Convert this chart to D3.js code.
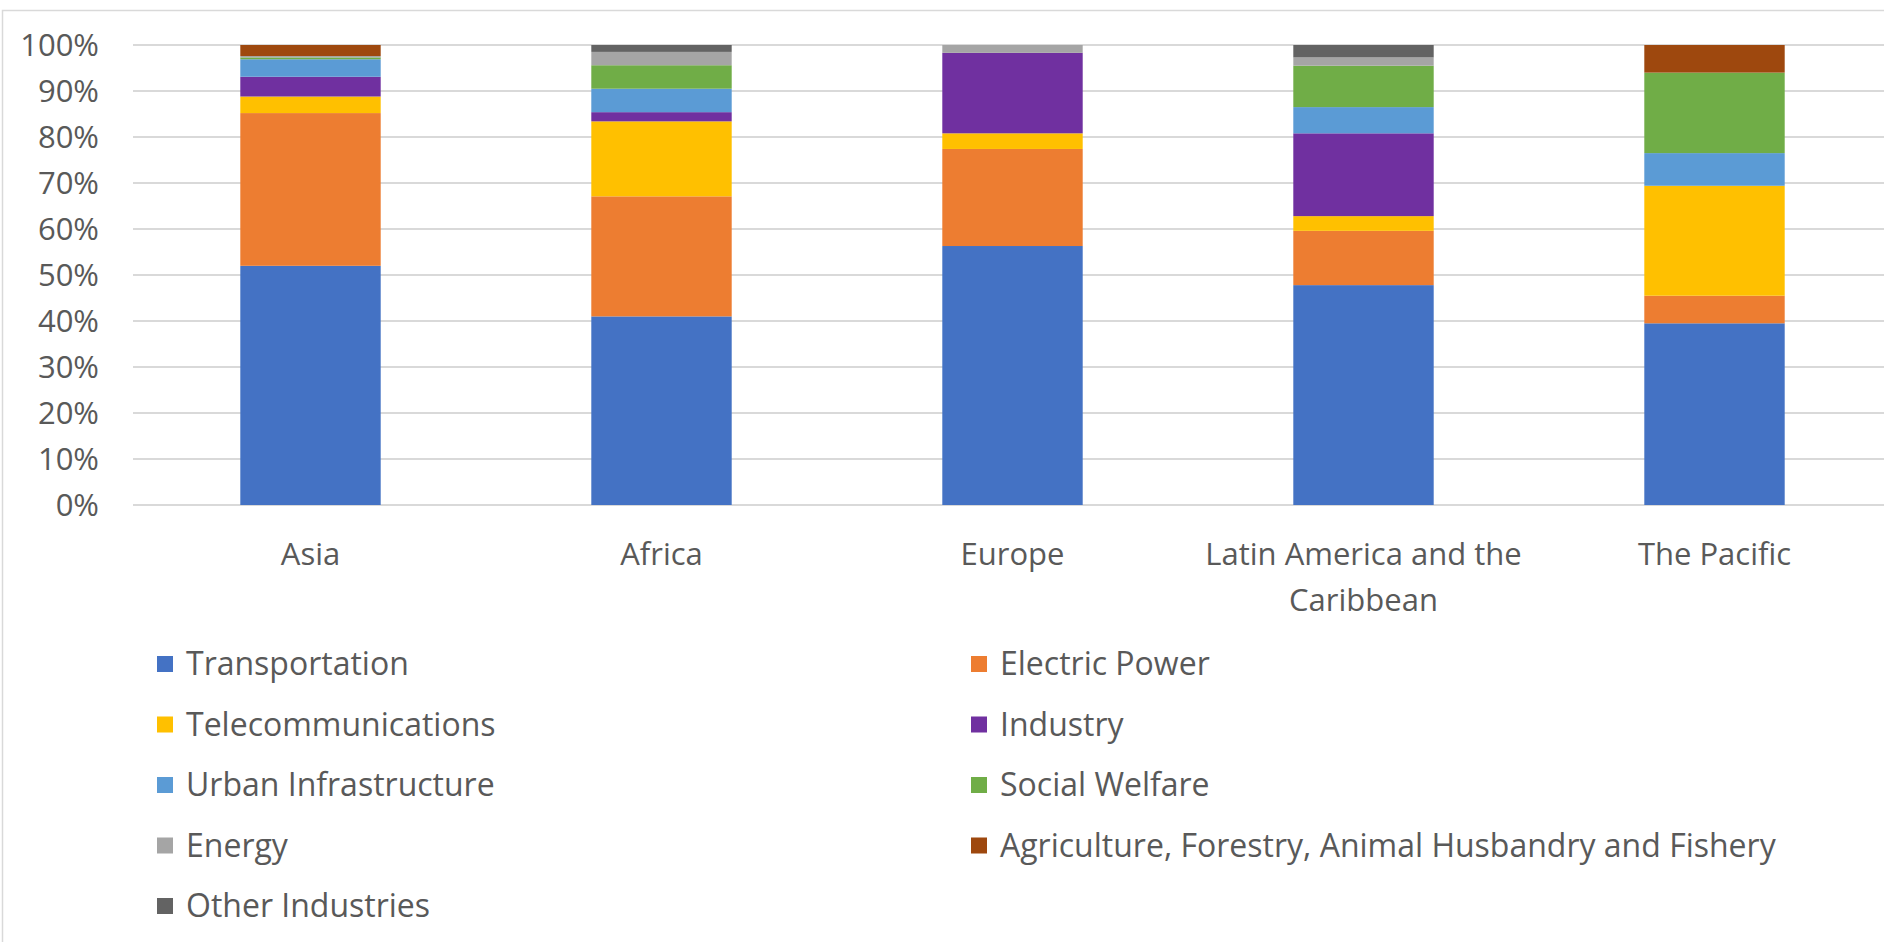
<!DOCTYPE html>
<html>
<head>
<meta charset="utf-8">
<script src="https://cdn.jsdelivr.net/npm/d3@7"></script>
<style>
  html, body { margin: 0; padding: 0; background: #ffffff; }
  svg { display: block; }
  text { font-family: "Open Sans", "Noto Sans", sans-serif; fill: #595959; }
</style>
</head>
<body>
<svg id="chart" width="1884" height="942"></svg>
<script>
// ---- Data (percent shares per region) ----
const regions = ["Asia", "Africa", "Europe", "Latin America and the Caribbean", "The Pacific"];
const seriesNames = [
  "Transportation", "Electric Power", "Telecommunications", "Industry",
  "Urban Infrastructure", "Social Welfare", "Energy",
  "Agriculture, Forestry, Animal Husbandry and Fishery", "Other Industries"
];
const transportation = [52.0, 41.0, 56.3, 47.8, 39.5];
const electricPower  = [33.2, 26.1, 21.1, 11.8, 6.0];
const telecom        = [3.6, 16.3, 3.4, 3.2, 23.9];
const industry       = [4.3, 2.0, 17.5, 18.0, 0];
const urbanInfra     = [3.8, 5.1, 0, 5.7, 7.1];
const socialWelfare  = [0.4, 5.1, 0, 9.0, 17.5];
const energy         = [0.3, 2.9, 1.7, 1.8, 0];
const agriculture    = [2.4, 0, 0, 0, 6.0];
const otherInd       = [0, 1.5, 0, 2.7, 0];
const yTicks = [0, 0.1, 0.2, 0.3, 0.4, 0.5, 0.6, 0.7, 0.8, 0.9, 1.0];
const colors = ["#4472C4", "#ED7D31", "#FFC000", "#7030A0", "#5B9BD5",
                "#70AD47", "#A5A5A5", "#9E480E", "#636363"];

const seriesValues = [transportation, electricPower, telecom, industry, urbanInfra,
                      socialWelfare, energy, agriculture, otherInd];
const table = regions.map((r, i) => {
  const row = { region: r };
  seriesNames.forEach((s, j) => row[s] = seriesValues[j][i]);
  return row;
});

const svg = d3.select("#chart");
const FONT = 31;
const LEGEND_FONT = 32;

// chart frame
svg.append("rect")
  .attr("x", 2.5).attr("y", 10.5).attr("width", 1900).attr("height", 1000)
  .attr("fill", "none").attr("stroke", "#d9d9d9").attr("stroke-width", 1.5);

const x = d3.scaleBand().domain(regions).range([135, 1890])
  .paddingInner(0.6).paddingOuter(0.3);
const y = d3.scaleLinear().domain([0, 1]).range([505, 45]);

// gridlines
svg.append("g").selectAll("line").data(yTicks).join("line")
  .attr("x1", 133).attr("x2", 1884)
  .attr("y1", d => y(d)).attr("y2", d => y(d))
  .attr("stroke", "#d9d9d9").attr("stroke-width", 2);

// y axis labels
const yAxis = d3.axisLeft(y).tickValues(yTicks).tickFormat(d3.format(".0%")).tickSize(0).tickPadding(0);
const yg = svg.append("g").attr("transform", "translate(99,0)").call(yAxis);
yg.select(".domain").remove();
yg.selectAll("text").attr("font-size", FONT).attr("fill", "#595959")
  .style("font-family", '"Open Sans", sans-serif').attr("dy", "0.35em");

// stacked bars
const stack = d3.stack().keys(seriesNames).offset(d3.stackOffsetExpand);
const layers = stack(table);
svg.append("g").selectAll("g").data(layers).join("g")
  .attr("fill", (d, i) => colors[i])
  .selectAll("rect").data(d => d).join("rect")
  .attr("x", d => x(d.data.region))
  .attr("width", x.bandwidth())
  .attr("y", d => y(d[1]))
  .attr("height", d => Math.max(0, y(d[0]) - y(d[1])));

// category labels (wrapped)
const labels = svg.append("g");
regions.forEach(r => {
  const cx = x(r) + x.bandwidth() / 2;
  const t = labels.append("text").attr("text-anchor", "middle").attr("font-size", FONT);
  const words = r.split(" ");
  let line = [], lines = [];
  const maxW = 340;
  const probe = svg.append("text").attr("font-size", FONT);
  words.forEach(w => {
    const test = line.concat([w]).join(" ");
    probe.text(test);
    if (probe.node().getComputedTextLength() > maxW && line.length) {
      lines.push(line.join(" ")); line = [w];
    } else line.push(w);
  });
  lines.push(line.join(" "));
  probe.remove();
  lines.forEach((l, i) => {
    t.append("tspan").attr("x", cx).attr("y", 565 + i * 46).text(l);
  });
});

// legend
const legend = svg.append("g");
const colX = [157, 971], rowY0 = 664, rowStep = 60.5;
seriesNames.forEach((s, i) => {
  const cx = colX[i % 2], cy = rowY0 + Math.floor(i / 2) * rowStep;
  legend.append("rect").attr("x", cx).attr("y", cy - 8).attr("width", 16).attr("height", 16)
    .attr("fill", colors[i]);
  legend.append("text").attr("x", cx + 29).attr("y", cy).attr("dy", "0.35em")
    .attr("font-size", LEGEND_FONT).text(s);
});
</script>
</body>
</html>
